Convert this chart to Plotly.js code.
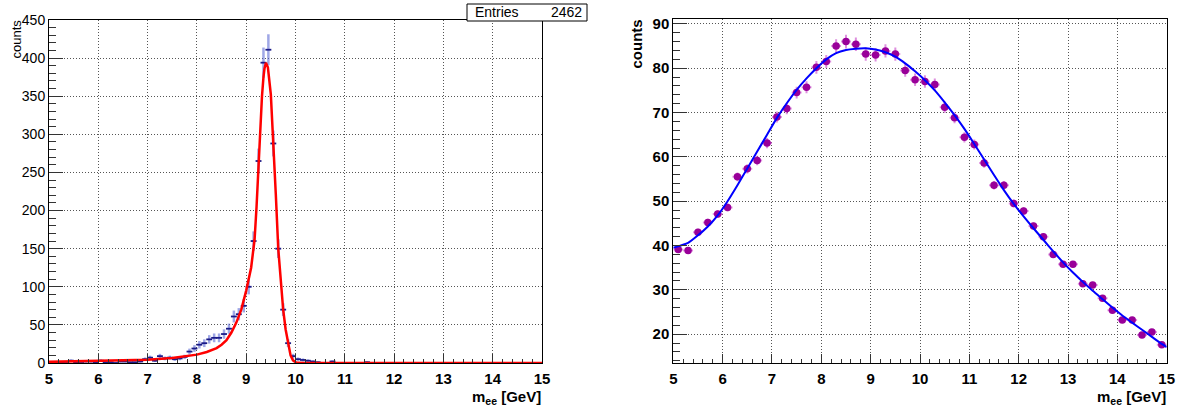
<!DOCTYPE html>
<html>
<head>
<meta charset="utf-8">
<script src="https://cdn.plot.ly/plotly-3.0.1.min.js"></script>
<style>html,body{margin:0;padding:0;background:#fff;}#chart{width:1178px;height:406px;}</style>
</head>
<body>
<div id="chart"></div>
<script>
// ---------- Left panel: histogram (bin centres, counts) ----------
const histX = [
 5.05,5.15,5.25,5.35,5.45,5.55,5.65,5.75,5.85,5.95,
 6.05,6.15,6.25,6.35,6.45,6.55,6.65,6.75,6.85,6.95,
 7.05,7.15,7.25,7.35,7.45,7.55,7.65,7.75,7.85,7.95,
 8.05,8.15,8.25,8.35,8.45,8.55,8.65,8.75,8.85,8.95,
 9.05,9.15,9.25,9.35,9.45,9.55,9.65,9.75,9.85,9.95,
 10.05,10.15,10.25,10.35,10.45,10.55,10.65,10.75,10.85,10.95,
 11.05,11.15,11.25,11.35,11.45,11.55,11.65,11.75,11.85,11.95,
 12.05,12.15,12.25,12.35,12.45,12.55,12.65,12.75,12.85,12.95,
 13.05,13.15,13.25,13.35,13.45,13.55,13.65,13.75,13.85,13.95,
 14.05,14.15,14.25,14.35,14.45,14.55,14.65,14.75,14.85,14.95];
const histY = [
 1,0,1,0,3,1,0,2,2,1,
 3,1,1,0,2,2,1,1,2,5,
 7,3,9,6,7,5,6,8,15,19,
 24,26,31,33,33,38,45,61,64,75,
 100,160,265,394,411,288,150,70,26,9,
 5,4,3,2,1,0,0,2,0,0,
 0,0,0,0,1,0,0,0,0,0,
 0,0,0,0,0,0,0,0,0,0,
 0,0,0,0,0,0,0,0,0,0,
 0,0,0,0,0,0,0,0,0,0];
// fitted curve
const fitLX = [5.0,5.5,6.0,6.5,7.0,7.5,7.7,8.0,8.2,8.4,8.5,8.6,8.7,8.8,8.9,9.0,9.1,9.17,9.21,9.25,9.29,9.32,9.35,9.37,9.40,9.44,9.5,9.55,9.6,9.65,9.7,9.75,9.8,9.85,9.9,9.95,10.0,10.05,10.2,12.0,15.0];
const fitLY = [1.5,2,2.5,3.2,4.3,6.5,8.5,11,14.5,19.5,24,30,40,53,70,95,125,162,205,262,315,350,375,386,394,388,352,295,222,150,105,70,44,24,10,3.5,1,0.2,0,0,0];

// ---------- Right panel: data points and fit ----------
const ptsX = [5.1,5.3,5.5,5.7,5.9,6.1,6.3,6.5,6.7,6.9,
 7.1,7.3,7.5,7.7,7.9,8.1,8.3,8.5,8.7,8.9,
 9.1,9.3,9.5,9.7,9.9,10.1,10.3,10.5,10.7,10.9,
 11.1,11.3,11.5,11.7,11.9,12.1,12.3,12.5,12.7,12.9,
 13.1,13.3,13.5,13.7,13.9,14.1,14.3,14.5,14.7,14.9];
const ptsY = [39.1,38.9,43.0,45.2,47.1,48.6,55.5,57.3,59.2,63.1,
 69.0,70.9,74.5,75.7,80.2,81.5,85.0,86.0,85.4,83.2,
 83.0,83.9,83.2,79.5,77.4,77.0,76.3,71.2,68.8,64.4,
 62.8,58.6,53.6,53.6,49.5,47.8,44.4,42.0,38.0,35.8,
 35.8,31.4,31.1,28.1,25.4,23.2,23.2,19.8,20.5,17.6];
const fitRX = [5.0,5.3,5.5,5.7,5.9,6.1,6.3,6.5,6.7,6.9,7.1,7.3,7.5,7.7,7.9,8.1,8.3,8.5,8.7,8.9,9.1,9.3,9.5,9.7,9.9,10.1,10.3,10.5,10.7,10.9,11.1,11.3,11.5,11.7,11.9,12.1,12.3,12.5,12.7,12.9,13.1,13.3,13.5,13.7,13.9,14.1,14.3,14.5,14.7,14.9,15.0];
const fitRY = [39.5,40.6,42.3,44.3,46.8,50.0,53.6,57.4,61.2,65.0,68.8,72.1,75.1,77.7,80.0,82.0,83.4,84.1,84.4,84.5,84.2,83.6,82.6,81.1,79.3,77.3,75.0,72.3,69.4,66.3,62.9,59.4,55.9,52.5,49.4,46.6,43.9,41.3,38.7,36.2,33.9,31.8,29.8,27.9,26.0,24.2,22.6,21.0,19.4,17.8,17.1];

const entriesLabel = 'Entries';
const entriesValue = '2462';
const yTitle = 'counts';
const xTitle = 'm<sub>ee</sub> [GeV]';

const FONT = 'Liberation Sans, Arial, Helvetica, sans-serif';
const W = 1178, H = 406;
const px = v => v / W;
const py = v => (H - v) / H;

const traces = [
 {x: histX, y: histY, xaxis:'x', yaxis:'y', type:'scatter', mode:'markers',
  marker:{size:1, color:'rgba(0,0,0,0)'},
  error_y:{type:'sqrt', color:'rgba(80,95,210,0.55)', thickness:2.5, width:0},
  error_x:{type:'constant', value:0.06, color:'#1a1a88', thickness:1.8, width:0},
  hoverinfo:'skip'},
 {x: fitLX, y: fitLY, xaxis:'x', yaxis:'y', type:'scatter', mode:'lines',
  line:{color:'#ff0000', width:2.5}, hoverinfo:'skip'},
 {x: ptsX, y: ptsY, xaxis:'x2', yaxis:'y2', type:'scatter', mode:'markers',
  marker:{size:7.5, color:'#990099', symbol:'circle'},
  error_y:{type:'percent', value:1.8, color:'rgba(200,70,200,0.6)', thickness:2, width:0},
  error_x:{type:'constant', value:0.1, color:'rgba(200,70,200,0.6)', thickness:2, width:0},
  hoverinfo:'skip'},
 {x: fitRX, y: fitRY, xaxis:'x2', yaxis:'y2', type:'scatter', mode:'lines', line:{color:'#0000ff', width:2, shape:'spline', smoothing:0.6}, hoverinfo:'skip'}
];

function xAx(domain, anchor){
 return {domain: domain, anchor: anchor, range:[5,15], dtick:1, tick0:5,
  ticks:'inside', ticklen:9, tickwidth:1, tickcolor:'#333', ticklabelstandoff:2,
  minor:{dtick:0.2, ticks:'inside', ticklen:4.5, tickwidth:1, tickcolor:'#333', showgrid:false},
  showline:true, linecolor:'black', linewidth:1, mirror:true,
  showgrid:true, gridcolor:'#555', gridwidth:1, griddash:'1px,2px', zeroline:false,
  tickfont:{family:FONT, size:15, weight:'bold', color:'black'}, fixedrange:true};
}
const layout = {
 width:W, height:H, margin:{l:0,r:0,t:0,b:0}, paper_bgcolor:'white', plot_bgcolor:'white', showlegend:false,
 xaxis: xAx([px(49), px(542)], 'y'),
 xaxis2: xAx([px(673.3), px(1166.7)], 'y2'),
 yaxis: {domain:[py(363), py(20)], anchor:'x', range:[0,450], dtick:50, tick0:0,
  ticks:'inside', ticklen:14, tickwidth:1, tickcolor:'#333',
  minor:{dtick:10, ticks:'inside', ticklen:7, tickwidth:1, tickcolor:'#333', showgrid:false},
  showline:true, linecolor:'black', linewidth:1, mirror:true,
  showgrid:true, gridcolor:'#555', gridwidth:1, griddash:'1px,2px', zeroline:false,
  tickfont:{family:FONT, size:14, color:'black'}, fixedrange:true},
 yaxis2: {domain:[py(363), py(19)], anchor:'x2', range:[13.5,91.1], dtick:10, tick0:0,
  ticks:'inside', ticklen:14, tickwidth:1, tickcolor:'#333',
  minor:{dtick:2, ticks:'inside', ticklen:7, tickwidth:1, tickcolor:'#333', showgrid:false},
  showline:true, linecolor:'black', linewidth:1, mirror:true,
  showgrid:true, gridcolor:'#555', gridwidth:1, griddash:'1px,2px', zeroline:false,
  tickfont:{family:FONT, size:15, weight:'bold', color:'black'}, fixedrange:true},
 shapes: [
  {type:'rect', xref:'paper', yref:'paper', x0:px(467), x1:px(587), y0:py(21), y1:py(4),
   line:{color:'black', width:1}, fillcolor:'white', layer:'above'}
 ],
 annotations: [
  {text: entriesLabel, xref:'paper', yref:'paper', x:px(473), y:py(12.5), xanchor:'left', yanchor:'middle', showarrow:false,
   font:{family:FONT, size:14, color:'black'}},
  {text: entriesValue, xref:'paper', yref:'paper', x:px(584), y:py(12.5), xanchor:'right', yanchor:'middle', showarrow:false,
   font:{family:FONT, size:14, color:'black'}},
  {text: yTitle, xref:'paper', yref:'paper', x:px(16), y:py(18), xanchor:'center', yanchor:'top', textangle:-90, showarrow:false,
   font:{family:FONT, size:13, color:'black'}},
  {text: yTitle, xref:'paper', yref:'paper', x:px(636), y:py(18), xanchor:'center', yanchor:'top', textangle:-90, showarrow:false,
   font:{family:FONT, size:15, weight:'bold', color:'black'}},
  {text: xTitle, xref:'paper', yref:'paper', x:px(543), y:py(409), xanchor:'right', yanchor:'bottom', showarrow:false,
   font:{family:FONT, size:15, weight:'bold', color:'black'}},
  {text: xTitle, xref:'paper', yref:'paper', x:px(1168), y:py(409), xanchor:'right', yanchor:'bottom', showarrow:false,
   font:{family:FONT, size:15, weight:'bold', color:'black'}}
 ]
};
Plotly.newPlot('chart', traces, layout, {staticPlot:true, displayModeBar:false});
</script>
</body>
</html>
